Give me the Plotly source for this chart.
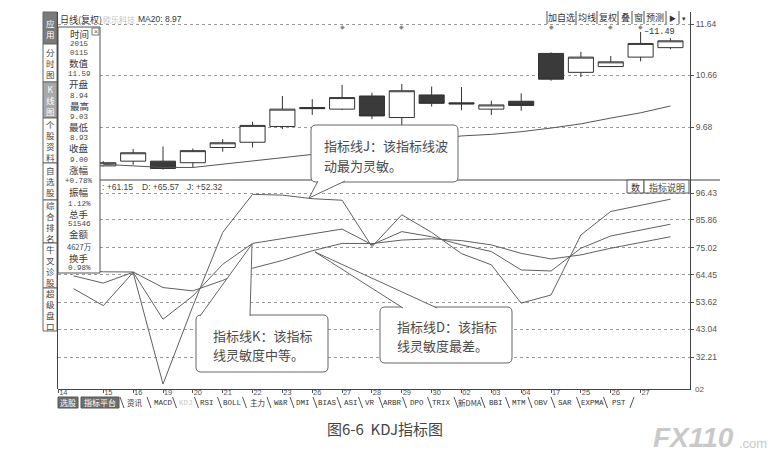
import plotly.graph_objects as go

W, H = 773, 458

# ---------------- data ----------------
candle_idx = list(range(20))
open_p = [8.94, 9.03, 9.03, 9.00, 9.29, 9.39, 9.69, 10.05, 10.02, 10.27, 9.86, 10.29, 10.14, 10.02, 10.17, 11.08, 10.72, 10.83, 11.01, 11.19]
high_p = [9.03, 9.26, 9.31, 9.27, 9.45, 9.78, 10.27, 10.21, 10.48, 10.33, 10.50, 10.45, 10.44, 10.18, 10.32, 11.10, 11.11, 11.03, 11.49, 11.37]
low_p = [8.93, 8.96, 8.87, 8.91, 9.21, 9.29, 9.64, 9.91, 10.00, 9.83, 9.67, 10.07, 10.00, 9.91, 9.99, 10.56, 10.63, 10.82, 10.93, 11.16]
close_p = [9.00, 9.19, 8.89, 9.23, 9.38, 9.71, 10.02, 10.03, 10.24, 9.89, 10.37, 10.13, 10.12, 10.10, 10.09, 10.59, 11.01, 10.92, 11.27, 11.32]
ma20 = [8.97, 8.94, 8.91, 8.91, 8.97, 9.03, 9.09, 9.15, 9.22, 9.29, 9.36, 9.44, 9.51, 9.54, 9.59, 9.66, 9.74, 9.85, 9.95, 10.08]

kdj_idx = list(range(-1, 20))
k_vals = [64.0, 61.15, 65.4, 47.0, 56.1, 68.5, 76.7, 78.6, 80.6, 82.3, 76.2, 81.3, 79.3, 76.1, 73.5, 66.3, 65.9, 74.8, 79.6, 81.9, 84.2]
d_vals = [66.5, 65.57, 65.5, 59.4, 58.1, 62.2, 67.0, 70.0, 73.8, 76.7, 76.6, 78.0, 78.5, 77.8, 76.1, 72.8, 70.6, 72.2, 74.8, 77.1, 79.3]
j_vals = [59.0, 52.32, 65.3, 21.6, 52.1, 81.0, 95.9, 95.6, 94.2, 93.6, 75.4, 87.9, 81.0, 72.7, 68.3, 53.3, 56.5, 80.0, 89.2, 91.5, 94.0]

day_labels = ["14", "15", "16", "19", "20", "21", "22", "23", "26", "27", "28", "29", "30", "02", "03", "04", "17", "25", "26", "27"]
price_ticks = [11.64, 10.66, 9.68]
kdj_ticks = [96.43, 85.86, 75.02, 64.45, 53.62, 43.04, 32.21]
info_marks = [8, 10, 15, 17, 18]

info_labels = ["时间", "数值", "开盘", "最高", "最低", "收盘", "涨幅", "振幅", "总手", "金额", "换手"]
info_values = ["2015", "0115", "11.59", "8.94", "9.03", "8.93", "9.00", "+0.78%", "1.12%", "51546", "4627万", "0.98%"]
kdj_header = [": +61.15", "D: +65.57", "J: +52.32"]

side_tabs = ["应用", "分时图", "K线图", "个股资料", "自选股", "综合排名", "牛叉诊股", "超级盘口"]
tool_buttons = ["加自选", "均线", "复权", "叠", "窗", "预测", "▶", "▾"]
bottom_tabs = ["资讯", "MACD", "KDJ", "RSI", "BOLL", "主力", "W&amp;R", "DMI", "BIAS", "ASI", "VR", "ARBR", "DPO", "TRIX", "新DMA", "BBI", "MTM", "OBV", "SAR", "EXPMA", "PST"]

callout_j = ["指标线J：该指标线波", "动最为灵敏。"]
callout_k = ["指标线K：该指标", "线灵敏度中等。"]
callout_d = ["指标线D：该指标", "线灵敏度最差。"]
caption = "图6-6  KDJ指标图"

# ---------------- layout helpers ----------------
CJK = "Noto Sans CJK SC"
MONO = "Liberation Mono"
SANS = "Liberation Sans"
INK = "#333333"


def PX(x):
    return x / W


def PY(y):
    return 1 - y / H


def lin(p, a_p, a_v, b_p, b_v):
    return a_v + (p - a_p) * (b_v - a_v) / (b_p - a_p)


left_px, right_px = 58, 690
c0_px, step_px = 103.3, 29.85
x_range = [(left_px - c0_px) / step_px, (right_px - c0_px) / step_px]
up_range = [lin(180, 24, 11.64, 127, 9.68), lin(12, 24, 11.64, 127, 9.68)]
lo_range = [lin(389, 193, 96.43, 357, 32.21), lin(180, 193, 96.43, 357, 32.21)]

shapes = []
annos = []


def rect(x0, y0, x1, y1, fill="white", line="#555", lw=1):
    shapes.append(dict(type="rect", xref="paper", yref="paper", x0=PX(x0), x1=PX(x1), y0=PY(y1), y1=PY(y0),
                       fillcolor=fill, line=dict(color=line, width=lw), layer="above"))


def seg(x0, y0, x1, y1, color="#444", lw=1):
    shapes.append(dict(type="line", xref="paper", yref="paper", x0=PX(x0), x1=PX(x1), y0=PY(y0), y1=PY(y1),
                       line=dict(color=color, width=lw), layer="above"))


def text(x, y, t, size=9, color=INK, family=CJK, xanchor="center", yanchor="middle", pad=1):
    annos.append(dict(xref="paper", yref="paper", x=PX(x), y=PY(y), text=t, showarrow=False, borderpad=pad,
                      font=dict(size=size, color=color, family=family), xanchor=xanchor, yanchor=yanchor))


def rrect_path(x0, y0, x1, y1, r=5):
    return (f"M {PX(x0 + r)},{PY(y0)} L {PX(x1 - r)},{PY(y0)} Q {PX(x1)},{PY(y0)} {PX(x1)},{PY(y0 + r)} "
            f"L {PX(x1)},{PY(y1 - r)} Q {PX(x1)},{PY(y1)} {PX(x1 - r)},{PY(y1)} "
            f"L {PX(x0 + r)},{PY(y1)} Q {PX(x0)},{PY(y1)} {PX(x0)},{PY(y1 - r)} "
            f"L {PX(x0)},{PY(y0 + r)} Q {PX(x0)},{PY(y0)} {PX(x0 + r)},{PY(y0)} Z")


def callout(box, b1, tip, b2, lines, text_x, text_y0, gap):
    x0, y0, x1, y1 = box
    shapes.append(dict(type="path", xref="paper", yref="paper", path=rrect_path(x0, y0, x1, y1),
                       fillcolor="white", line=dict(color="#666", width=1), layer="above"))
    p = f"M {PX(b1[0])},{PY(b1[1])} L {PX(tip[0])},{PY(tip[1])} L {PX(b2[0])},{PY(b2[1])}"
    shapes.append(dict(type="path", xref="paper", yref="paper", path=p,
                       fillcolor="white", line=dict(color="#666", width=1), layer="above"))
    for i, ln in enumerate(lines):
        text(text_x, text_y0 + i * gap, ln, size=13, color="#4a4a4a", xanchor="left")


# ---------------- traces ----------------
fig = go.Figure()
fig.add_trace(go.Candlestick(
    x=candle_idx, open=open_p, high=high_p, low=low_p, close=close_p,
    increasing=dict(line=dict(color="#333", width=1), fillcolor="white"),
    decreasing=dict(line=dict(color="#333", width=1), fillcolor="#3a3a3a"),
    whiskerwidth=0, xaxis="x", yaxis="y", hoverinfo="skip", showlegend=False))
fig.add_trace(go.Scatter(x=candle_idx, y=ma20, mode="lines", line=dict(color="#555", width=1),
                         xaxis="x", yaxis="y", hoverinfo="skip", showlegend=False))
for vals in (d_vals, k_vals, j_vals):
    fig.add_trace(go.Scatter(x=kdj_idx, y=vals, mode="lines", line=dict(color="#606060", width=1),
                             xaxis="x2", yaxis="y2", hoverinfo="skip", showlegend=False))

# ---------------- decorations ----------------
# left sidebar
side_bounds = [12, 44, 82, 118, 163, 200, 243, 288, 331]
for i, name in enumerate(side_tabs):
    fill = "#7a7a7a" if i == 0 else ("#a8a8a8" if i == 2 else "white")
    rect(43, side_bounds[i], 57, side_bounds[i + 1], fill=fill, line="#666")
    text(50, (side_bounds[i] + side_bounds[i + 1]) / 2, "<br>".join(list(name)),
         size=8.5, color="white" if i in (0, 2) else "#444")

# left border and pane divider
seg(57.5, 12, 57.5, 389, color="#444")
seg(58, 180, 720, 180, color="#444")

# header of price pane
text(58, 19, "日线(复权)", size=9, color=INK, xanchor="left")
text(101, 19, "欧乐科技", size=8, color="#c4c4c4", xanchor="left")
text(136, 19, f"MA20: {ma20[0]:.2f}", size=8.5, color=INK, family=SANS, xanchor="left")

# toolbar
tool_bounds = [547, 576, 597, 618, 632, 644, 666, 679, 689]
for i, b in enumerate(tool_buttons):
    seg(tool_bounds[i], 11, tool_bounds[i], 24, color="#555")
    text((tool_bounds[i] + tool_bounds[i + 1]) / 2, 18, b, size=9 if i < 6 else 7, color=INK)

# info markers and high label
for m in info_marks:
    annos.append(dict(xref="x", yref="paper", x=m, y=PY(27), text="◆", showarrow=False,
                      font=dict(size=6, color="#888"), xanchor="center", yanchor="middle"))
annos.append(dict(xref="x", yref="y", x=candle_idx[18], y=high_p[18], text=f"–{high_p[18]:.2f}", showarrow=False,
                  font=dict(size=8.5, color=INK, family=MONO), xanchor="left", yanchor="middle", xshift=1))

# lower pane header and buttons
hdr_x = [100, 140, 185]
for x, t in zip(hdr_x, kdj_header):
    text(x, 187, t, size=8.5, color="#444", family=SANS, xanchor="left")
rect(627, 180, 644, 193, fill="white", line="#555")
rect(644, 180, 689, 193, fill="white", line="#555")
text(635.5, 187, "数", size=9, color=INK)
text(666.5, 187, "指标说明", size=9, color="#444")

# info box
rect(58, 27, 100, 273, fill="white", line="#555")
rect(92, 28, 99, 35, fill="white", line="#777")
text(95.5, 31.3, "×", size=7, color="#555", family=SANS)
label_y = [34, 63, 84.5, 106, 127, 148, 170, 192, 214, 234.5, 257.5]
value_y = [44.5, 52.5, 73.5, 96, 117, 138, 160, 181, 204, 224, 246.5, 267.5]
for lab, ly in zip(info_labels, label_y):
    text(79, ly, lab, size=9.5, color="#3a3a3a", pad=0)
for val, vy in zip(info_values, value_y):
    text(79, vy, val, size=7.5, color="#444", family=MONO if val.isascii() else CJK, pad=0)

# callouts
callout((311, 125, 458, 182), (318, 181), (309, 198), (345, 181), callout_j, 322, 145, 20)
callout((196, 315, 328, 372), (200, 316), (252, 244), (250, 316), callout_k, 211, 335, 19)
callout((380, 307, 512, 363), (403, 308), (315, 252), (437, 308), callout_d, 395, 326, 19)

# right-bottom label
text(693, 389, "02", size=8, color="#555", family=SANS, xanchor="left")

# bottom tab row
rect(58, 397, 78, 408, fill="#6e6e6e", line="#555")
rect(81, 397, 119, 408, fill="#6e6e6e", line="#555")
text(68, 402.5, "选股", size=8, color="white")
text(100, 402.5, "指标平台", size=8, color="white")
tab_x = [135, 163, 186, 207, 232, 257, 281, 303, 327, 351, 370, 392, 417, 442, 470, 496, 519, 541, 565, 592, 619]
sep_x = [120] + [(a + b) / 2 - 2 for a, b in zip(tab_x[:-1], tab_x[1:])]
for sx in sep_x:
    seg(sx, 397, sx + 4, 408, color="#555")
seg(630, 408, 634, 397, color="#555")
for tx, name in zip(tab_x, bottom_tabs):
    col = "#c8c8c8" if name == "KDJ" else INK
    fam = CJK if any(ord(c) > 255 for c in name) else MONO
    text(tx, 402.5, name, size=7.5, color=col, family=fam)

# caption and watermark
text(385, 428, caption, size=15, color="#444")
text(736, 437, "<b><i>FX110</i></b>", size=28, color="#c9c9c9", family=SANS, xanchor="right")
text(737, 443, ".com", size=13, color="#c9c9c9", family=SANS, xanchor="left")

# ---------------- axes ----------------
xdom = [PX(left_px), PX(right_px)]
axis_font = dict(size=8.5, color="#555", family=SANS)
fig.update_layout(
    width=W, height=H, margin=dict(l=0, r=0, t=0, b=0),
    paper_bgcolor="white", plot_bgcolor="white", showlegend=False, boxgap=0.16, boxgroupgap=0,
    xaxis=dict(domain=xdom, range=x_range, anchor="y", showticklabels=False, showgrid=False, zeroline=False,
               rangeslider=dict(visible=False), fixedrange=True),
    yaxis=dict(domain=[PY(180), PY(12)], range=up_range, anchor="x", side="right",
               tickvals=price_ticks, ticktext=[f"{v:.2f}" for v in price_ticks],
               showgrid=True, gridcolor="#9a9a9a", griddash="dot", gridwidth=1, zeroline=False,
               showline=True, linecolor="#444", linewidth=1, ticks="outside", ticklen=3, tickcolor="#555",
               tickfont=axis_font, fixedrange=True),
    xaxis2=dict(domain=xdom, range=x_range, anchor="y2", showgrid=False, zeroline=False,
                tickvals=[x_range[0] + 0.01] + candle_idx[:19], ticktext=day_labels,
                ticks="outside", ticklen=3, tickcolor="#555", ticklabelshift=5, ticklabelstandoff=-7,
                showline=True, linecolor="#444", linewidth=1,
                tickfont=dict(size=7.5, color="#555", family=SANS), fixedrange=True),
    yaxis2=dict(domain=[PY(389), PY(180)], range=lo_range, anchor="x2", side="right",
                tickvals=kdj_ticks, ticktext=[f"{v:.2f}" for v in kdj_ticks],
                showgrid=True, gridcolor="#9a9a9a", griddash="dot", gridwidth=1, zeroline=False,
                showline=True, linecolor="#444", linewidth=1, ticks="outside", ticklen=3, tickcolor="#555",
                tickfont=axis_font, fixedrange=True),
    shapes=shapes, annotations=annos,
)

fig.write_html("out.html", config=dict(displayModeBar=False, staticPlot=True),
               post_script="document.body.style.margin='0px';document.body.style.overflow='hidden';")
